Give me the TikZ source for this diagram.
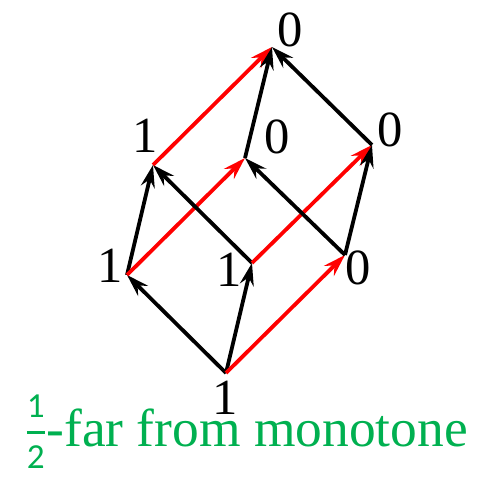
\documentclass[tikz,border=0pt]{standalone}
\usepackage{amsmath}
\usepackage{fontspec}
\setmainfont{Liberation Serif}
\newfontfamily\fracfont{Carlito}
\usetikzlibrary{arrows.meta}
\definecolor{farGreen}{RGB}{0,176,80}
\newcommand{\fracdigit}[1]{\hbox{\fracfont\fontsize{25}{25}\selectfont #1}}

\begin{document}
\begin{tikzpicture}[x=0.025cm, y=-0.025cm,
	edge/.style={line width=2.7pt, -{Stealth[length=16pt, width=10pt, inset=5.5pt]}},
	viol/.style={edge, red},
	val/.style={font=\fontsize{36}{36}\selectfont, inner sep=0pt}]
	\useasboundingbox (0,0) rectangle (481,477);
	% Vertices, values and edges:
	\coordinate (b) at (226,373);
	\coordinate (l1) at (127,275);
	\coordinate (m1) at (252,263);
	\coordinate (r1) at (345,255);
	\coordinate (l2) at (153,165);
	\coordinate (m2) at (245,158);
	\coordinate (r2) at (372,145);
	\coordinate (t) at (272,47);
	\node[val] (vb) at (225,398) {1};
	\node[val] (vl1) at (110,266) {1};
	\node[val] (vm1) at (229,270) {1};
	\node[val] (vr1) at (358,268) {0};
	\node[val] (vl2) at (145,136) {1};
	\node[val] (vm2) at (277,137) {0};
	\node[val] (vr2) at (390,130) {0};
	\node[val] (vt) at (290,30) {0};
	\draw[edge] (b) -- (l1);
	\draw[edge] (b) -- (m1);
	\draw[viol] (b) -- (r1);
	\draw[edge] (l1) -- (l2);
	\draw[viol] (l1) -- (m2);
	\draw[edge] (m1) -- (l2);
	\draw[viol] (m1) -- (r2);
	\draw[edge] (r1) -- (m2);
	\draw[edge] (r1) -- (r2);
	\draw[viol] (l2) -- (t);
	\draw[edge] (m2) -- (t);
	\draw[edge] (r2) -- (t);
	\node[anchor=base west, inner sep=0pt, text=farGreen, font=\fontsize{38}{38}\selectfont] (far) at (25,447) {\raisebox{4pt}{$\genfrac{}{}{2.6pt}{0}{\fracdigit{1}}{\fracdigit{2}}$}-far from monotone};
\end{tikzpicture}
\end{document}
